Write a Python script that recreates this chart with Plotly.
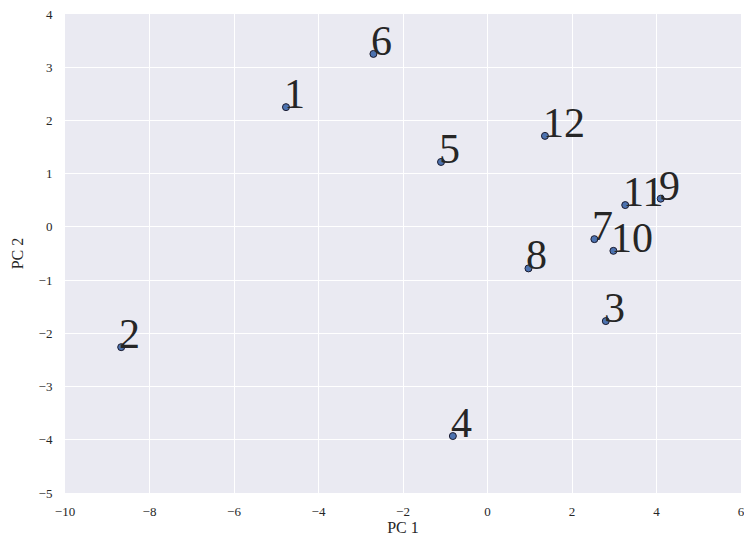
import plotly.graph_objects as go

labels = ["1", "2", "3", "4", "5", "6", "7", "8", "9", "10", "11", "12"]
pc1 = [-4.77, -8.67, 2.80, -0.82, -1.10, -2.70, 2.53, 0.97, 4.10, 2.98, 3.26, 1.36]
pc2 = [2.25, -2.26, -1.77, -3.93, 1.22, 3.25, -0.23, -0.78, 0.53, -0.45, 0.41, 1.71]

x_ticks = [-10, -8, -6, -4, -2, 0, 2, 4, 6]
y_ticks = [-5, -4, -3, -2, -1, 0, 1, 2, 3, 4]

font_family = "Liberation Serif, DejaVu Serif, serif"

fig = go.Figure()
fig.add_trace(go.Scatter(
    x=pc1, y=pc2, mode="markers",
    marker=dict(color="#4C72B0", size=7, line=dict(color="#1a1a2e", width=1)),
    showlegend=False, hoverinfo="skip",
))

for lab, x, y in zip(labels, pc1, pc2):
    fig.add_annotation(
        x=x, y=y, text=lab, showarrow=False,
        xanchor="left", yanchor="bottom", xshift=-4, yshift=-12,
        font=dict(family=font_family, size=42, color="#262626"),
    )

fig.update_layout(
    width=744, height=544,
    margin=dict(l=65, r=3, t=14, b=51),
    paper_bgcolor="white", plot_bgcolor="#EAEAF2",
    font=dict(family=font_family, size=13, color="#262626"),
)
fig.update_xaxes(
    range=[-10, 6], tickvals=x_ticks,
    ticktext=[str(v).replace("-", "\u2212") for v in x_ticks],
    showgrid=True, gridcolor="white", gridwidth=1.2, zeroline=False,
    showline=False, ticks="outside", ticklen=6, tickcolor="rgba(0,0,0,0)",
    ticklabeloverflow="allow", automargin=False,
    title=dict(text="PC 1", standoff=4),
)
fig.update_yaxes(
    range=[-5, 4], tickvals=y_ticks,
    ticktext=[str(v).replace("-", "\u2212") for v in y_ticks],
    showgrid=True, gridcolor="white", gridwidth=1.2, zeroline=False,
    showline=False, ticks="outside", ticklen=9, tickcolor="rgba(0,0,0,0)",
    ticklabeloverflow="allow", automargin=False,
    title=dict(text="PC 2", standoff=10),
)

fig.write_html("out.html")
